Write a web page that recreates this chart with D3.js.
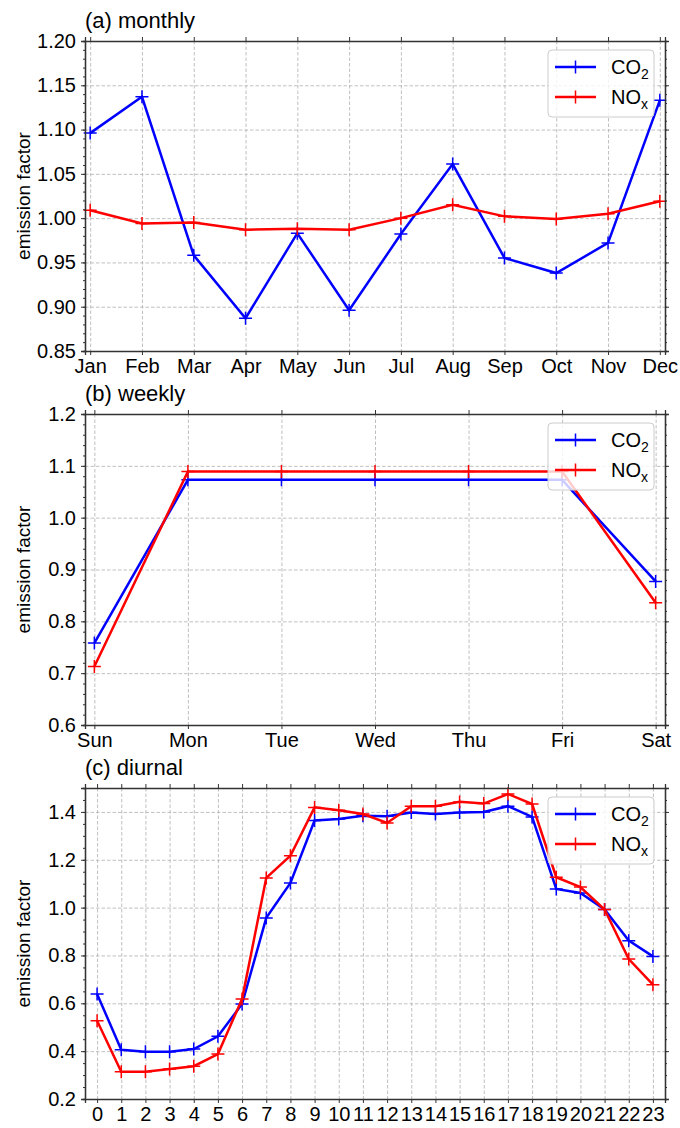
<!DOCTYPE html>
<html>
<head>
<meta charset="utf-8">
<script src="https://cdn.jsdelivr.net/npm/d3@7"></script>
<style>
  body { margin: 0; background: #fff; }
  text { font-family: "Liberation Sans", Arial, sans-serif; fill: #000; }
</style>
</head>
<body>
<svg id="chart" width="680" height="1128"></svg>
<script>
// monthly factors
const months = ["Jan", "Feb", "Mar", "Apr", "May", "Jun", "Jul", "Aug", "Sep", "Oct", "Nov", "Dec"];
const co2Monthly = [1.096, 1.137, 0.958, 0.887, 0.983, 0.896, 0.982, 1.061, 0.955, 0.938, 0.972, 1.133];
const noxMonthly = [1.009, 0.994, 0.995, 0.987, 0.988, 0.987, 1.000, 1.015, 1.002, 0.999, 1.005, 1.019];
const monthlyTicks = [0.85, 0.90, 0.95, 1.00, 1.05, 1.10, 1.15, 1.20];

// weekly factors
const days = ["Sun", "Mon", "Tue", "Wed", "Thu", "Fri", "Sat"];
const co2Weekly = [0.758, 1.073, 1.073, 1.073, 1.073, 1.073, 0.877];
const noxWeekly = [0.713, 1.089, 1.089, 1.089, 1.089, 1.089, 0.836];
const weeklyTicks = [0.6, 0.7, 0.8, 0.9, 1.0, 1.1, 1.2];

// diurnal factors
const hours = ["0", "1", "2", "3", "4", "5", "6", "7", "8", "9", "10", "11",
               "12", "13", "14", "15", "16", "17", "18", "19", "20", "21", "22", "23"];
const co2Diurnal = [0.639, 0.406, 0.398, 0.398, 0.409, 0.462, 0.597, 0.957, 1.103, 1.364, 1.370, 1.384,
                    1.382, 1.398, 1.391, 1.398, 1.400, 1.424, 1.379, 1.078, 1.061, 0.992, 0.862, 0.796];
const noxDiurnal = [0.527, 0.314, 0.314, 0.325, 0.337, 0.388, 0.618, 1.124, 1.217, 1.419, 1.407, 1.391,
                    1.354, 1.424, 1.424, 1.442, 1.435, 1.475, 1.433, 1.127, 1.086, 0.992, 0.785, 0.678];
const diurnalTicks = [0.2, 0.4, 0.6, 0.8, 1.0, 1.2, 1.4];

const svg = d3.select("#chart");
const left = 85, right = 665, fontSize = 20;

function drawPanel(p) {
  const width = right - left;
  const g = svg.append("g").attr("transform", "translate(" + left + "," + p.top + ")");

  const x = d3.scaleLinear().domain(p.xDomain).range([0, width]);
  const y = d3.scaleLinear().domain(p.yDomain).range([p.height, 0]);
  const idx = d3.range(p.cats.length);

  // grid
  g.append("g")
    .attr("class", "grid")
    .call(d3.axisBottom(x).tickValues(idx).tickSize(p.height).tickFormat(""))
    .call(s => s.select(".domain").remove());
  g.append("g")
    .attr("class", "grid")
    .call(d3.axisLeft(y).tickValues(p.ticks).tickSize(-width).tickFormat(""))
    .call(s => s.select(".domain").remove());
  g.selectAll(".grid line")
    .attr("stroke", "#b0b0b0")
    .attr("stroke-width", 0.8)
    .attr("stroke-dasharray", "3.5,2");

  // series
  const line = d3.line().x((d, i) => x(i)).y(d => y(d));
  p.series.forEach(function(s) {
    g.append("path")
      .datum(s.values)
      .attr("fill", "none")
      .attr("stroke", s.color)
      .attr("stroke-width", 2.5)
      .attr("d", line);
    g.selectAll(null)
      .data(s.values)
      .enter().append("path")
      .attr("transform", (d, i) => "translate(" + x(i) + "," + y(d) + ")")
      .attr("d", "M-6.5,0H6.5M0,-6.5V6.5")
      .attr("stroke", s.color)
      .attr("stroke-width", 1.5);
  });

  // axes
  const fmt = d3.format(p.fmt);
  const minor = d3.range(p.yDomain[0], p.yDomain[1] + 1e-9, p.minorStep);

  const yl = g.append("g").call(d3.axisLeft(y).tickValues(p.ticks).tickSize(4).tickPadding(5).tickFormat(fmt));
  g.append("g").call(d3.axisLeft(y).tickValues(minor).tickSize(2).tickFormat(""));
  g.append("g").attr("transform", "translate(" + width + ",0)")
    .call(d3.axisRight(y).tickValues(p.ticks).tickSize(4).tickFormat(""));
  g.append("g").attr("transform", "translate(" + width + ",0)")
    .call(d3.axisRight(y).tickValues(minor).tickSize(2).tickFormat(""));
  const xl = g.append("g").attr("transform", "translate(0," + p.height + ")")
    .call(d3.axisBottom(x).tickValues(idx).tickSize(4).tickPadding(4).tickFormat(i => p.cats[i]));
  g.append("g").call(d3.axisTop(x).tickValues(idx).tickSize(4).tickFormat(""));

  g.selectAll(".domain").attr("stroke", "#333").attr("stroke-width", 1.3);
  g.selectAll(".tick line").filter(function() { return !this.closest(".grid"); })
    .attr("stroke", "#333").attr("stroke-width", 1);
  yl.selectAll("text").style("font-size", fontSize + "px");
  xl.selectAll("text").style("font-size", fontSize + "px");

  // title and y label
  svg.append("text")
    .attr("x", left)
    .attr("y", p.top - 13)
    .style("font-size", "22px")
    .text(p.title);
  svg.append("text")
    .attr("transform", "translate(23," + (p.top + p.height / 2) + ") rotate(-90)")
    .attr("text-anchor", "middle")
    .attr("dominant-baseline", "central")
    .style("font-size", "19px")
    .text("emission factor");

  // legend
  const lg = g.append("g").attr("transform", "translate(" + (width - 117) + ",9)");
  lg.append("rect")
    .attr("width", 106).attr("height", 67).attr("rx", 4)
    .attr("fill", "#fff").attr("fill-opacity", 0.8)
    .attr("stroke", "#cccccc");
  p.series.forEach(function(s, k) {
    const cy = 17 + k * 30;
    lg.append("line").attr("x1", 7).attr("x2", 48).attr("y1", cy).attr("y2", cy)
      .attr("stroke", s.color).attr("stroke-width", 2.5);
    lg.append("path").attr("transform", "translate(27.5," + cy + ")")
      .attr("d", "M-6.5,0H6.5M0,-6.5V6.5")
      .attr("stroke", s.color).attr("stroke-width", 1.5);
    const t = lg.append("text").attr("x", 63).attr("y", cy + 7).style("font-size", fontSize + "px");
    t.append("tspan").text(s.name);
    t.append("tspan").attr("dy", 5).style("font-size", "14px").text(s.sub);
  });
}

drawPanel({
  title: "(a) monthly", top: 41, height: 310,
  cats: months, xDomain: [-0.1, 11.1],
  yDomain: [0.85, 1.20], ticks: monthlyTicks, minorStep: 0.01, fmt: ".2f",
  series: [
    { name: "CO", sub: "2", color: "#0000ff", values: co2Monthly },
    { name: "NO", sub: "x", color: "#ff0000", values: noxMonthly }
  ]
});

drawPanel({
  title: "(b) weekly", top: 414, height: 311,
  cats: days, xDomain: [-0.1, 6.1],
  yDomain: [0.6, 1.2], ticks: weeklyTicks, minorStep: 0.02, fmt: ".1f",
  series: [
    { name: "CO", sub: "2", color: "#0000ff", values: co2Weekly },
    { name: "NO", sub: "x", color: "#ff0000", values: noxWeekly }
  ]
});

drawPanel({
  title: "(c) diurnal", top: 788, height: 311,
  cats: hours, xDomain: [-0.5, 23.5],
  yDomain: [0.2, 1.5], ticks: diurnalTicks, minorStep: 0.05, fmt: ".1f",
  series: [
    { name: "CO", sub: "2", color: "#0000ff", values: co2Diurnal },
    { name: "NO", sub: "x", color: "#ff0000", values: noxDiurnal }
  ]
});
</script>
</body>
</html>
